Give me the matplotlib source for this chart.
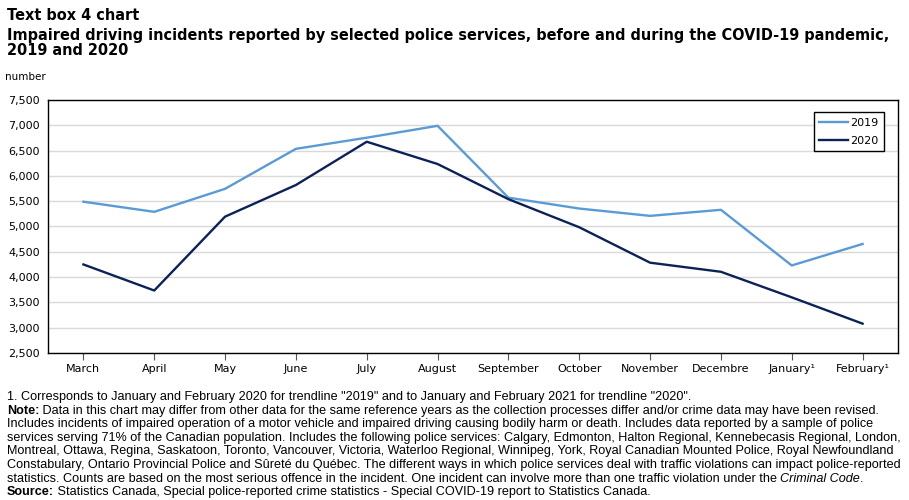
import matplotlib.pyplot as plt

months = ['March', 'April', 'May', 'June', 'July', 'August', 'September',
          'October', 'November', 'Decembre', 'January¹', 'February¹']
incidents_2019 = [5490, 5290, 5745, 6535, 6755, 6990, 5570, 5355, 5210, 5330, 4230, 4655]
incidents_2020 = [4250, 3735, 5195, 5820, 6675, 6235, 5540, 4985, 4285, 4105, 3600, 3080]
y_ticks = [2500, 3000, 3500, 4000, 4500, 5000, 5500, 6000, 6500, 7000, 7500]

TITLE_FONT = ['DejaVu Sans']
NOTE_FONT = ['Liberation Sans', 'DejaVu Sans']
TICK_FONT = ['DejaVu Sans']

fig = plt.figure(figsize=(9.09, 5.0), dpi=100)
ax = fig.add_axes([48 / 909, 1 - 353 / 500, (898 - 48) / 909, (353 - 100) / 500])

x = list(range(len(months)))
ax.plot(x, incidents_2019, color='#5b9bd5', linewidth=1.7, label='2019')
ax.plot(x, incidents_2020, color='#0c2257', linewidth=1.7, label='2020')

ax.set_xlim(-0.5, len(months) - 0.5)
ax.set_ylim(2500, 7500)
ax.set_yticks(y_ticks)
ax.set_yticklabels([f'{v:,}' for v in y_ticks], family=TICK_FONT, fontsize=8)
ax.set_xticks(x)
ax.set_xticklabels(months, family=TICK_FONT, fontsize=8)
ax.tick_params(axis='y', length=0, pad=6)
ax.tick_params(axis='x', length=5, width=0.8, color='#555555', pad=3, direction='out')
ax.grid(axis='y', color='#d9d9d9', linewidth=1)
ax.set_axisbelow(True)
for s in ax.spines.values():
    s.set_color('black')
    s.set_linewidth(1)

leg = ax.legend(loc='upper right', bbox_to_anchor=(0.9835, 0.9526), fancybox=False,
                edgecolor='black', framealpha=1, prop={'family': TICK_FONT, 'size': 8},
                handlelength=2.6, handletextpad=0.2, borderpad=0.5, labelspacing=0.75,
                borderaxespad=0)
leg.get_frame().set_linewidth(1)

# titles
fig.text(7 / 909, 1 - 15 / 500, 'Text box 4 chart', family=TITLE_FONT, fontsize=10.45,
         fontweight='bold', va='center')
fig.text(7 / 909, 1 - 35.5 / 500,
         'Impaired driving incidents reported by selected police services, before and during the COVID-19 pandemic,',
         family=TITLE_FONT, fontsize=10.45, fontweight='bold', va='center')
fig.text(7 / 909, 1 - 50.5 / 500, '2019 and 2020', family=TITLE_FONT, fontsize=10.45,
         fontweight='bold', va='center')
fig.text(5 / 909, 1 - 77 / 500, 'number', family=TICK_FONT, fontsize=7.5, va='center')

# footnotes with mixed styles
footnote_lines = [
    [('1. Corresponds to January and February 2020 for trendline "2019" and to January and February 2021 for trendline "2020".', 'normal', 'normal')],
    [('Note:', 'bold', 'normal'),
     (' Data in this chart may differ from other data for the same reference years as the collection processes differ and/or crime data may have been revised.', 'normal', 'normal')],
    [('Includes incidents of impaired operation of a motor vehicle and impaired driving causing bodily harm or death. Includes data reported by a sample of police', 'normal', 'normal')],
    [('services serving 71% of the Canadian population. Includes the following police services: Calgary, Edmonton, Halton Regional, Kennebecasis Regional, London,', 'normal', 'normal')],
    [('Montreal, Ottawa, Regina, Saskatoon, Toronto, Vancouver, Victoria, Waterloo Regional, Winnipeg, York, Royal Canadian Mounted Police, Royal Newfoundland', 'normal', 'normal')],
    [('Constabulary, Ontario Provincial Police and Sûreté du Québec. The different ways in which police services deal with traffic violations can impact police-reported', 'normal', 'normal')],
    [('statistics. Counts are based on the most serious offence in the incident. One incident can involve more than one traffic violation under the ', 'normal', 'normal'),
     ('Criminal Code', 'normal', 'italic'), ('.', 'normal', 'normal')],
    [('Source:', 'bold', 'normal'),
     (' Statistics Canada, Special police-reported crime statistics - Special COVID-19 report to Statistics Canada.', 'normal', 'normal')],
]

renderer = fig.canvas.get_renderer()
y0 = 397
for i, runs in enumerate(footnote_lines):
    xpos = 7
    ypix = y0 + i * 13.6
    for txt, weight, style in runs:
        t = fig.text(xpos / 909, 1 - ypix / 500, txt, family=NOTE_FONT, fontsize=9.1,
                     fontweight=weight, fontstyle=style, va='center')
        bb = t.get_window_extent(renderer=renderer)
        xpos += bb.width

fig.savefig('out.png', dpi=100)
